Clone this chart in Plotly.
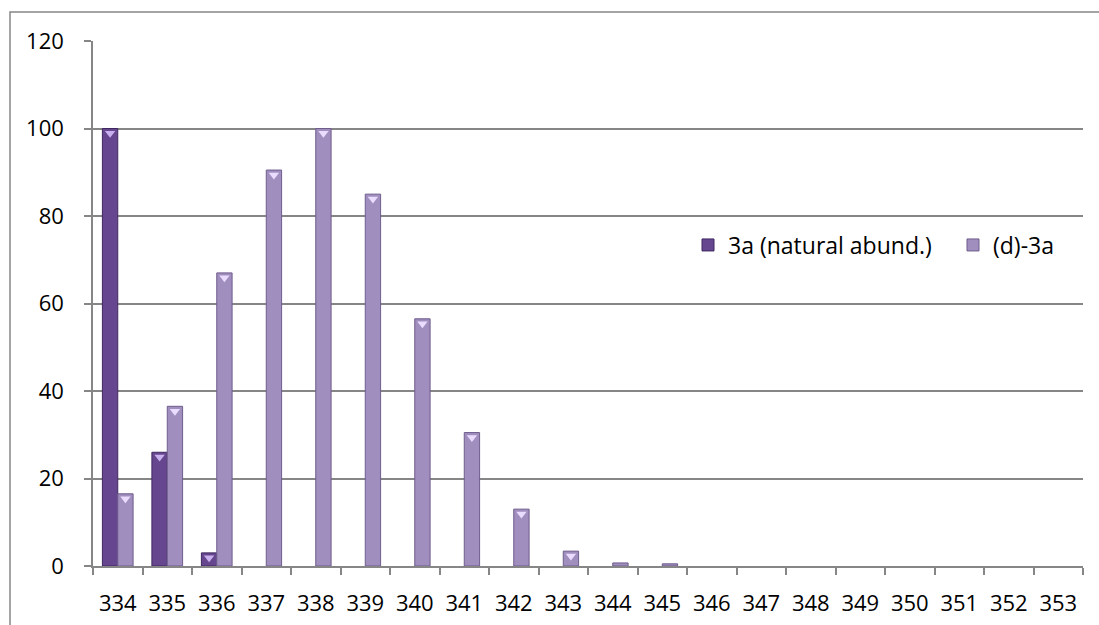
import plotly.graph_objects as go

# Mass peaks (m/z) and relative intensities (%)
masses = list(range(334, 354))
natural = [100, 26, 3, 0, 0, 0, 0, 0, 0, 0, 0, 0, 0, 0, 0, 0, 0, 0, 0, 0]
deuterated = [16.5, 36.5, 67, 90.5, 100, 85, 56.5, 30.5, 13, 3.4, 0.7, 0.5,
              0, 0, 0, 0, 0, 0, 0, 0]
names = ["3a (natural abund.)", "(d)-3a"]
y_ticks = [0, 20, 40, 60, 80, 100, 120]

BAR_W = 0.31
GRID = "#868686"
TICK_FONT = dict(family="Open Sans", size=22, color="#000000")
LEGEND_FONT = dict(family="Open Sans", size=23, color="#000000")

series = [
    dict(name=names[0], y=natural, offset=-BAR_W, fill="#66478f",
         edge="#3f2760", cap="#c9b0ee"),
    dict(name=names[1], y=deuterated, offset=0.0, fill="#a08ebf",
         edge="#6f5d8c", cap="#eadcff"),
]

fig = go.Figure()
for s in series:
    fig.add_trace(go.Bar(
        x=masses, y=s["y"], name=s["name"], width=BAR_W, offset=s["offset"],
        marker=dict(color=s["fill"],
                    line=dict(color=s["edge"],
                              width=[1 if v > 0 else 0 for v in s["y"]])),
    ))

# bevel highlight on top of each bar
for s in series:
    xs, ys = [], []
    for m, v in zip(masses, s["y"]):
        if v >= 3:
            xs.append(m + s["offset"] + BAR_W / 2)
            ys.append(v - 1.1)
    fig.add_trace(go.Scatter(
        x=xs, y=ys, mode="markers", showlegend=False, hoverinfo="skip",
        marker=dict(symbol="triangle-down", size=9, color=s["cap"],
                    line=dict(width=0)),
    ))

# outer chart frame
fig.add_shape(type="rect", xref="paper", yref="paper",
              x0=(10 - 93) / 990, x1=1.05, y0=-0.3, y1=(566 - 12) / 525,
              line=dict(color=GRID, width=1.5), fillcolor="rgba(0,0,0,0)",
              layer="below")

fig.update_layout(
    width=1099, height=625,
    margin=dict(l=93, r=16, t=41, b=59, autoexpand=False),
    paper_bgcolor="white", plot_bgcolor="white",
    font=TICK_FONT,
    barmode="overlay",
    showlegend=True,
    legend=dict(orientation="h", x=(688 - 93) / 990, y=(566 - 245) / 525,
                xanchor="left", yanchor="middle", bgcolor="rgba(0,0,0,0)",
                font=LEGEND_FONT, entrywidth=220, itemwidth=30,
                traceorder="normal"),
    xaxis=dict(
        range=[333.5, 353.5], tickvals=masses, ticktext=[str(m) for m in masses],
        ticks="", showgrid=False, zeroline=False, automargin=False,
        showline=True, linecolor=GRID, linewidth=1.5,
        tickfont=TICK_FONT, ticklabelstandoff=17,
        minor=dict(ticks="outside", tick0=333.5, dtick=1, ticklen=7,
                   tickcolor=GRID, tickwidth=1.5, showgrid=False),
    ),
    yaxis=dict(
        range=[0, 120], tickvals=y_ticks, showgrid=True, gridcolor=GRID,
        gridwidth=1.5, zeroline=False, showline=True, linecolor=GRID,
        linewidth=1.5, ticks="outside", ticklen=7, tickcolor=GRID,
        tickwidth=1.5, tickfont=TICK_FONT, ticklabelstandoff=16,
        automargin=False,
    ),
)

fig.write_html("out.html")
